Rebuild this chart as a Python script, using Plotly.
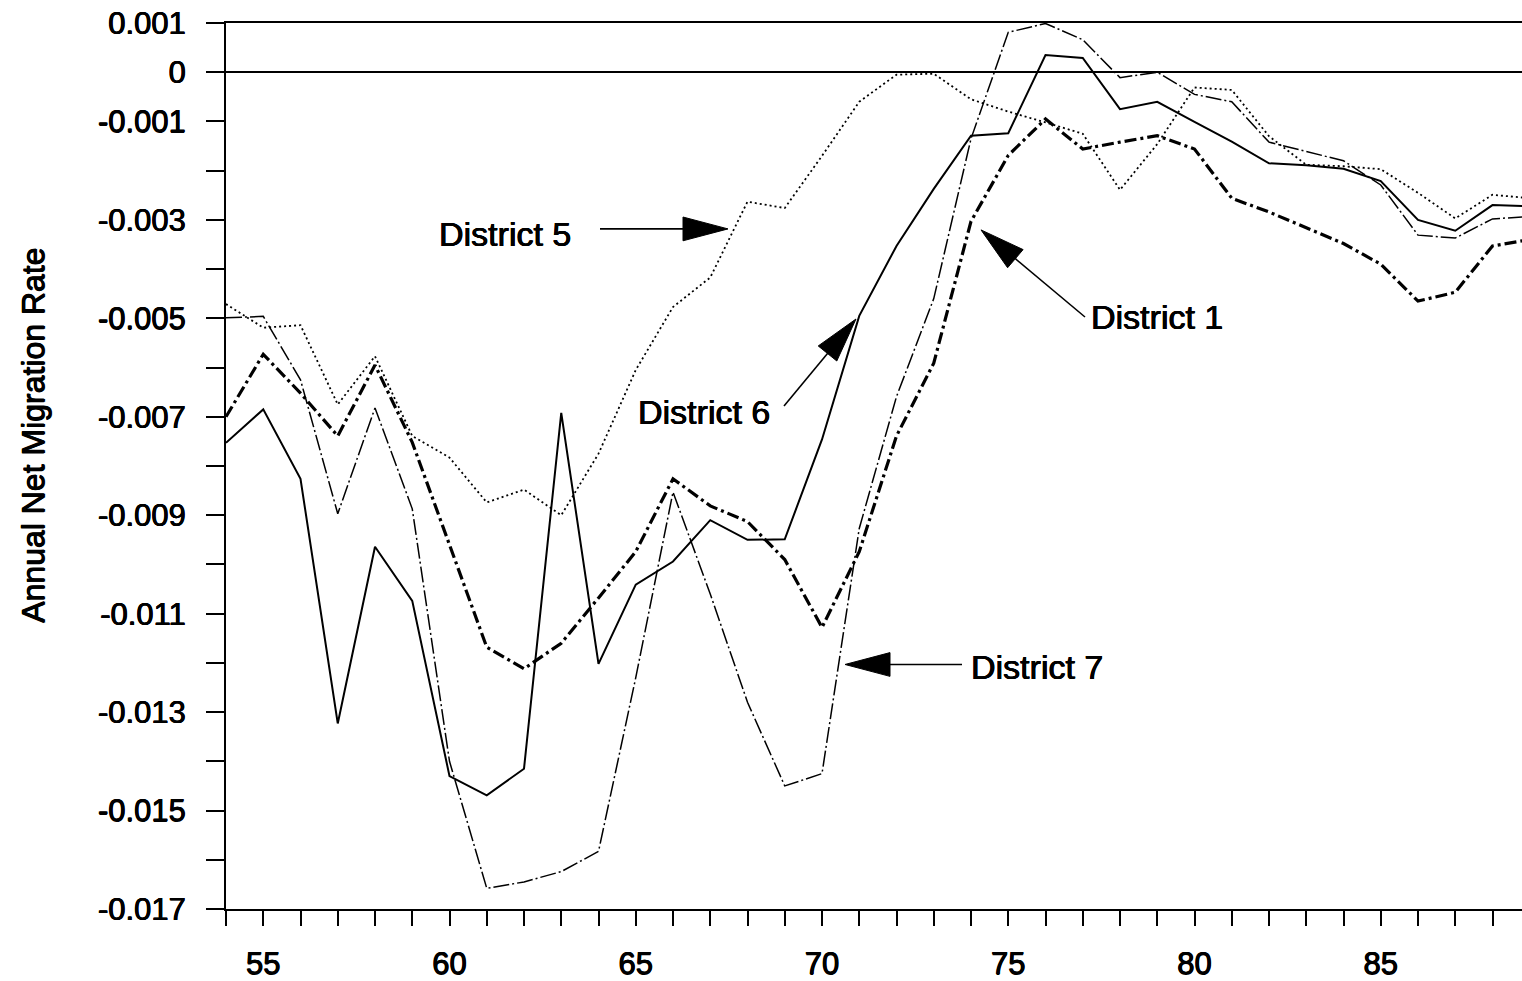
import plotly.graph_objects as go

# Years (19xx) and annual net migration rates by district
years = list(range(54, 90))

district_1 = [-0.00700, -0.00573, -0.00652, -0.00739, -0.00595, -0.00752, -0.00960, -0.01168,
              -0.01212, -0.01160, -0.01068, -0.00974, -0.00826, -0.00881, -0.00913, -0.00990,
              -0.01128, -0.00974, -0.00739, -0.00591, -0.00303, -0.00169, -0.00095, -0.00156,
              -0.00142, -0.00129, -0.00156, -0.00256, -0.00284, -0.00316, -0.00348, -0.00390,
              -0.00465, -0.00447, -0.00353, -0.00340]

district_5 = [-0.00471, -0.00519, -0.00514, -0.00675, -0.00577, -0.00739, -0.00783, -0.00874,
              -0.00848, -0.00900, -0.00775, -0.00605, -0.00477, -0.00417, -0.00263, -0.00276,
              -0.00170, -0.00060, -0.00005, -0.00003, -0.00055, -0.00080, -0.00102, -0.00125,
              -0.00239, -0.00146, -0.00031, -0.00036, -0.00130, -0.00188, -0.00191, -0.00197,
              -0.00245, -0.00297, -0.00249, -0.00256]

district_6 = [-0.00753, -0.00685, -0.00826, -0.01323, -0.00964, -0.01074, -0.01430, -0.01469,
              -0.01415, -0.00692, -0.01202, -0.01041, -0.00994, -0.00910, -0.00950, -0.00949,
              -0.00746, -0.00495, -0.00353, -0.00237, -0.00129, -0.00124, 0.00035, 0.00029,
              -0.00075, -0.00060, -0.00101, -0.00141, -0.00185, -0.00189, -0.00196, -0.00221,
              -0.00300, -0.00322, -0.00270, -0.00272]

district_7 = [-0.00499, -0.00496, -0.00625, -0.00897, -0.00682, -0.00887, -0.01400, -0.01658,
              -0.01645, -0.01624, -0.01583, -0.01230, -0.00853, -0.01060, -0.01280, -0.01450,
              -0.01425, -0.00927, -0.00659, -0.00460, -0.00135, 0.00081, 0.00099, 0.00066,
              -0.00011, 0.00000, -0.00045, -0.00060, -0.00142, -0.00161, -0.00180, -0.00229,
              -0.00331, -0.00337, -0.00298, -0.00293]

y_tick_values = [0.001 - 0.001 * i for i in range(19)]
y_tick_labels = ["0.001", "0", "-0.001", "", "-0.003", "", "-0.005", "", "-0.007", "",
                 "-0.009", "", "-0.011", "", "-0.013", "", "-0.015", "", "-0.017"]
x_tick_values = list(range(54, 89))
x_tick_labels = [str(v) if v % 5 == 0 else "" for v in x_tick_values]

W, H = 1522, 981
ML, MR, MT, MB = 226, 0, 23, 63
X0 = 54
X1 = 54 + (W - ML - MR) / 37.25
Y0, Y1 = -0.017, 0.001
FONT = "Liberation Sans, Arial, Helvetica, sans-serif"
# slightly heavier glyphs, like a medium-weight Helvetica
HEAVY = "0.5px 0 0 #000, -0.4px 0 0 #000, 0 0.4px 0 #000"


def px_x(p):
    return X0 + (p - ML) / (W - ML - MR) * (X1 - X0)


def px_y(p):
    return Y1 - (p - MT) / (H - MT - MB) * (Y1 - Y0)


fig = go.Figure()

fig.add_trace(go.Scatter(x=years, y=district_5, mode="lines", name="District 5",
                         line=dict(color="black", width=1.8, dash="2px,3px")))
fig.add_trace(go.Scatter(x=years, y=district_7, mode="lines", name="District 7",
                         line=dict(color="black", width=1.5, dash="16px,3px,2px,3px")))
fig.add_trace(go.Scatter(x=years, y=district_6, mode="lines", name="District 6",
                         line=dict(color="black", width=2)))
fig.add_trace(go.Scatter(x=years, y=district_1, mode="lines", name="District 1",
                         line=dict(color="black", width=3.2, dash="12px,4px,3px,4px")))

# Callout labels: (text, text centre px, arrow tail px, arrow tip px)
callouts = [
    ("District 5", (505, 236), (600, 231), (728, 231)),
    ("District 6", (704, 416), (784, 410), (856, 322)),
    ("District 1", (1157, 320), (1085, 320), (981, 232)),
    ("District 7", (1037, 674), (962, 671), (845, 671)),
]

shapes = []
annotations = []
HEAD_LEN, HEAD_HALF = 45, 12
for text, (tx, ty), (ax_, ay_), (hx, hy) in callouts:
    annotations.append(dict(x=px_x(tx), y=px_y(ty), xref="x", yref="y", text=text,
                            showarrow=False,
                            font=dict(family=FONT, size=34, color="black", shadow=HEAVY),
                            xanchor="center", yanchor="middle"))
    dx, dy = hx - ax_, hy - ay_
    norm = (dx * dx + dy * dy) ** 0.5
    ux, uy = dx / norm, dy / norm
    bx, by = hx - ux * HEAD_LEN, hy - uy * HEAD_LEN
    shapes.append(dict(type="line", xref="x", yref="y",
                       x0=px_x(ax_), y0=px_y(ay_), x1=px_x(bx), y1=px_y(by),
                       line=dict(color="black", width=1.6)))
    p1 = (bx - uy * HEAD_HALF, by + ux * HEAD_HALF)
    p2 = (bx + uy * HEAD_HALF, by - ux * HEAD_HALF)
    path = "M {},{} L {},{} L {},{} Z".format(px_x(hx), px_y(hy), px_x(p1[0]), px_y(p1[1]),
                                               px_x(p2[0]), px_y(p2[1]))
    shapes.append(dict(type="path", xref="x", yref="y", path=path,
                       fillcolor="black", line=dict(color="black", width=1)))

annotations.append(dict(x=(33 - ML) / (W - ML - MR), y=(H - MB - 440) / (H - MT - MB),
                        xref="paper", yref="paper", text="Annual Net Migration Rate",
                        textangle=-90, showarrow=False,
                        font=dict(family=FONT, size=32, color="black", shadow=HEAVY),
                        xanchor="center", yanchor="middle"))

tick_font = dict(family=FONT, size=31, color="black", shadow=HEAVY)

fig.update_layout(
    width=W, height=H,
    margin=dict(l=ML, r=MR, t=MT, b=MB, pad=0),
    paper_bgcolor="white", plot_bgcolor="white",
    showlegend=False,
    font=dict(family=FONT, color="black"),
    shapes=shapes,
    annotations=annotations,
    xaxis=dict(range=[X0, X1], tickmode="array", tickvals=x_tick_values, ticktext=x_tick_labels,
               ticks="outside", ticklen=15, tickwidth=2, tickcolor="black",
               showline=True, linecolor="black", linewidth=2, mirror=True,
               showgrid=False, zeroline=False,
               tickfont=tick_font, ticklabelstandoff=11),
    yaxis=dict(range=[Y0, Y1], tickmode="array", tickvals=y_tick_values, ticktext=y_tick_labels,
               ticks="outside", ticklen=18, tickwidth=2, tickcolor="black",
               showline=True, linecolor="black", linewidth=2,
               showgrid=False, zeroline=True, zerolinecolor="black", zerolinewidth=2,
               tickfont=tick_font, ticklabelstandoff=14),
)

fig.write_html("out.html")
